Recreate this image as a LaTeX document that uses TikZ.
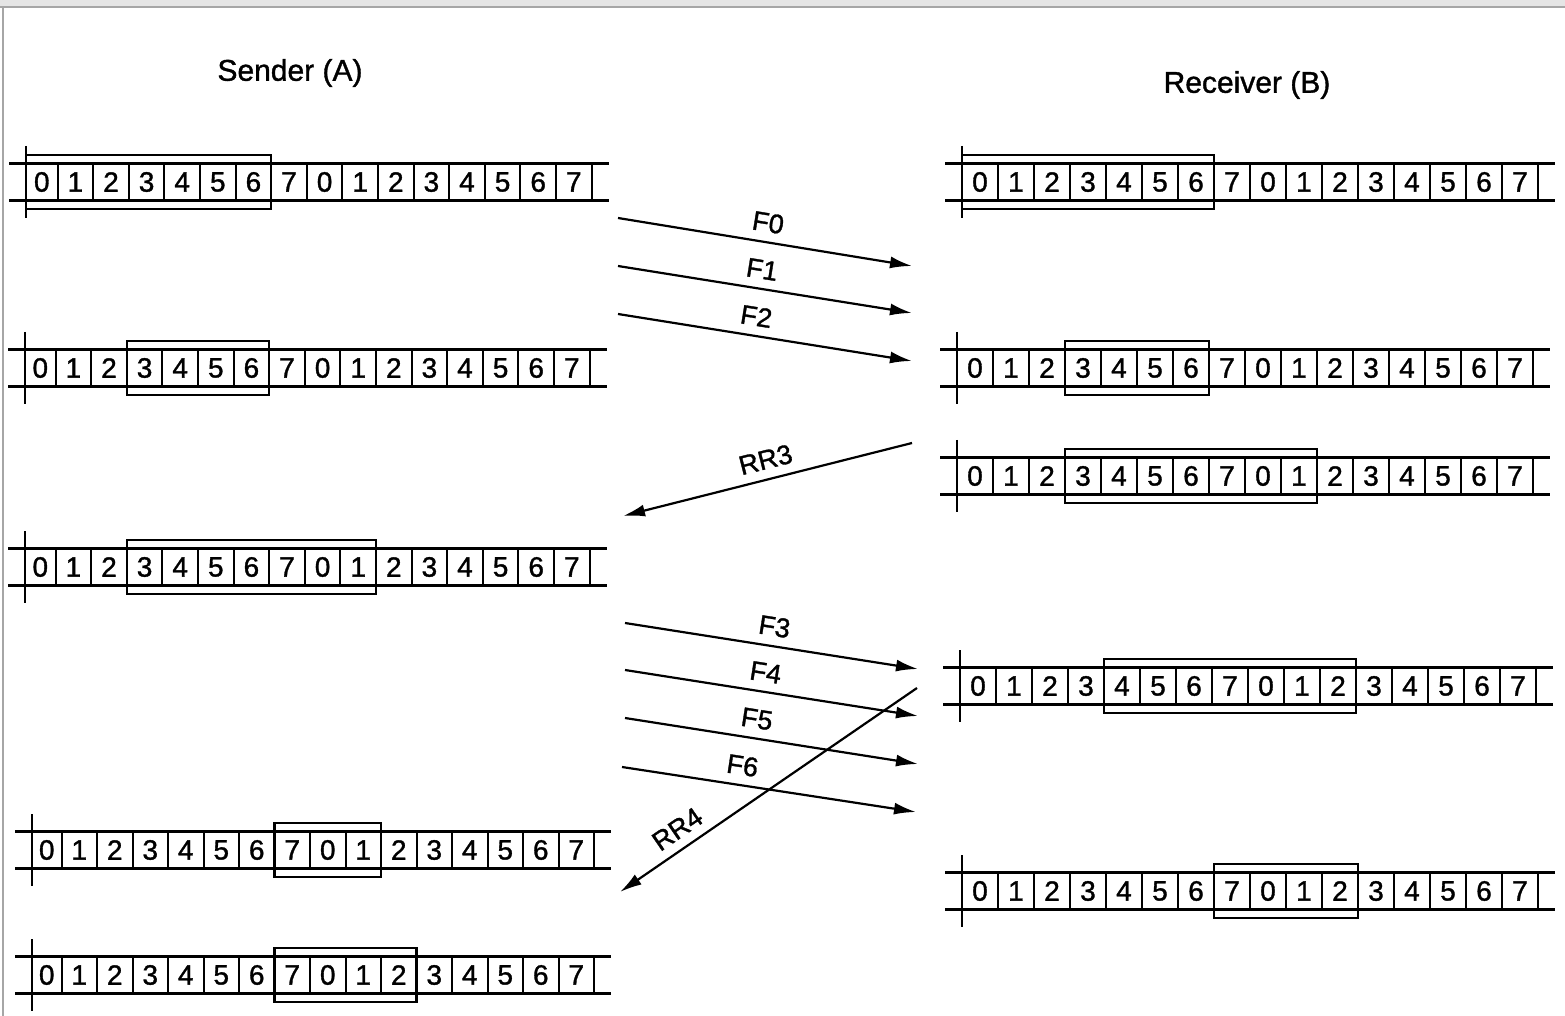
\documentclass[tikz,border=0pt]{standalone}
\usepackage{fontspec}
\setmainfont{Liberation Sans}
\newfontfamily\heavyfont{Liberation Sans}[FakeBold=1.2]
\usetikzlibrary{arrows.meta}
\tikzset{
  seqline/.style={line width=1.2pt},
  cellbox/.style={draw, line width=1pt, inner sep=0pt, minimum height=18.5pt, font=\heavyfont\fontsize{14}{16}\selectfont},
  winbox/.style={draw, line width=1.2pt},
  msg/.style={line width=1.1pt, -{Latex[length=11pt,width=6pt]}},
  lbl/.style={font=\heavyfont\fontsize{13.5}{15}\selectfont, sloped, above, inner sep=4.5pt},
  title/.style={font=\heavyfont\fontsize{15}{17}\selectfont}
}
% #1 name, #2 x0 (grid origin), #3 y, #4 cell width, #5 first window cell, #6 last window cell, #7 tick x
\newcommand\seqstrip[7]{%
  \draw[seqline] ({#7-17},{#3-18.5}) -- ({#2+16*#4+17},{#3-18.5});
  \draw[seqline] ({#7-17},{#3+18.5}) -- ({#2+16*#4+17},{#3+18.5});
  \foreach \i in {0,...,15}{%
    \pgfmathtruncatemacro\dg{mod(\i,8)}%
    \ifnum\i=0
      \pgfmathsetmacro\cl{#7}\pgfmathsetmacro\cw{#2+#4-#7}%
    \else
      \pgfmathsetmacro\cl{#2+\i*#4}\pgfmathsetmacro\cw{#4}%
    \fi
    \node[cellbox, minimum width={\cw*0.5pt}] (#1-\i) at ({\cl+\cw/2},#3) {\dg};
  }
  \draw[seqline] (#7,{#3-36}) -- (#7,{#3+36});
  \draw[winbox] ({max(#2+#5*#4,#7)},{#3-27}) rectangle ({#2+(#6+1)*#4},{#3+27});
}
\begin{document}
\begin{tikzpicture}[x=0.5pt,y=-0.5pt]
\useasboundingbox (0,0) rectangle (1565,1016);
\fill[white] (0,0) rectangle (1565,1016);
\fill[gray!20] (0,0) rectangle (1565,7);
\draw[gray!70, line width=1.2pt] (0,7) -- (1565,7);
\draw[gray!70, line width=1.2pt] (3,7) -- (3,1016);

\node[title] (sender) at (290,73) {Sender (A)};
\node[title] (receiver) at (1247,85) {Receiver (B)};

% sender strips
\seqstrip{L1}{22}{182}{35.6}{0}{6}{26}
\seqstrip{L2}{20}{368}{35.6}{3}{6}{25}
\seqstrip{L3}{20}{567}{35.6}{3}{9}{25}
\seqstrip{L4}{26}{850}{35.5}{7}{9}{32}
\seqstrip{L5}{26}{975}{35.5}{7}{10}{32}
% receiver strips
\seqstrip{R1}{962}{182}{36}{0}{6}{962}
\seqstrip{R2}{957}{368}{36}{3}{6}{957}
\seqstrip{R3}{957}{476}{36}{3}{9}{957}
\seqstrip{R4}{960}{686}{36}{4}{10}{960}
\seqstrip{R5}{962}{891}{36}{7}{10}{962}

% message end points
\coordinate (f0s) at (618,218); \coordinate (f0e) at (912,266);
\coordinate (f1s) at (618,266); \coordinate (f1e) at (912,313);
\coordinate (f2s) at (618,314); \coordinate (f2e) at (912,361);
\coordinate (rr3s) at (912,443); \coordinate (rr3e) at (623,516);
\coordinate (f3s) at (625,623); \coordinate (f3e) at (918,669);
\coordinate (f4s) at (625,670); \coordinate (f4e) at (918,716);
\coordinate (f5s) at (625,718); \coordinate (f5e) at (918,764);
\coordinate (f6s) at (622,767); \coordinate (f6e) at (916,812);
\coordinate (rr4s) at (917,688); \coordinate (rr4e) at (620,892);

\draw[msg] (f0s) -- node[lbl, pos=0.5] {F0} (f0e);
\draw[msg] (f1s) -- node[lbl, pos=0.48] {F1} (f1e);
\draw[msg] (f2s) -- node[lbl, pos=0.46] {F2} (f2e);
\draw[msg] (rr3s) -- node[lbl, pos=0.49] {RR3} (rr3e);
\draw[msg] (f3s) -- node[lbl, pos=0.5] {F3} (f3e);
\draw[msg] (f4s) -- node[lbl, pos=0.47] {F4} (f4e);
\draw[msg] (f5s) -- node[lbl, pos=0.44] {F5} (f5e);
\draw[msg] (f6s) -- node[lbl, pos=0.4] {F6} (f6e);
\draw[msg] (rr4s) -- node[lbl, pos=0.77] {RR4} (rr4e);
\end{tikzpicture}
\end{document}
